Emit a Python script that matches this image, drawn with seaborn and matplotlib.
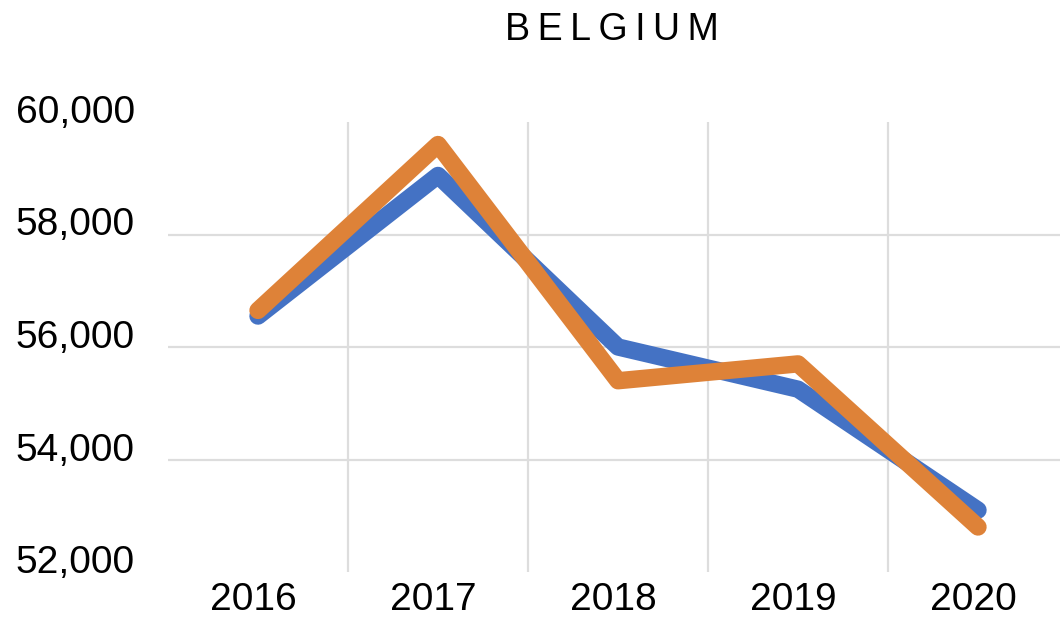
import matplotlib
matplotlib.use("Agg")
import matplotlib.pyplot as plt
import matplotlib.transforms as mtransforms
import seaborn as sns
import pandas as pd
from matplotlib.ticker import FuncFormatter

years = ["2016", "2017", "2018", "2019", "2020"]
series_a = [56550, 59050, 56000, 55250, 53100]
series_b = [56650, 59600, 55400, 55700, 52800]
series_names = ["Series 1", "Series 2"]
yticks = [52000, 54000, 56000, 58000, 60000]
title = "BELGIUM"

sns.set_theme(style="white")
plt.rcParams['font.family'] = ['Liberation Sans', 'DejaVu Sans']

df = pd.DataFrame({
    "pos": list(range(len(years))) * 2,
    "value": series_a + series_b,
    "series": [series_names[0]] * len(years) + [series_names[1]] * len(years),
})

fig = plt.figure(figsize=(10.6, 6.18), dpi=100)
ax = fig.add_axes([168 / 1060, 1 - 572 / 618, 900 / 1060, 450 / 618])

sns.lineplot(data=df, x="pos", y="value", hue="series",
             palette=["#4472C4", "#DE8238"], linewidth=12.5,
             legend=False, ax=ax, sort=False)
for line in ax.lines:
    line.set_solid_capstyle("round")
    line.set_solid_joinstyle("round")

ax.set_xlim(-0.5, len(years) - 0.5)
ax.set_ylim(52000, 60000)
ax.set_xticks(range(len(years)))
ax.set_xticklabels(years)
ax.set_yticks(yticks)
ax.yaxis.set_major_formatter(FuncFormatter(lambda v, p: f"{int(v):,}"))
ax.set_xlabel("")
ax.set_ylabel("")

# gridlines: vertical at category boundaries, horizontal at inner ticks
for xb in [i + 0.5 for i in range(len(years) - 1)]:
    ax.axvline(xb, color="#DDDDDD", linewidth=1.6, zorder=0)
for yv in yticks[1:-1]:
    ax.axhline(yv, color="#DDDDDD", linewidth=1.6, zorder=0)

for s in ax.spines.values():
    s.set_visible(False)

ax.tick_params(axis="y", length=0, pad=24, labelsize=28, labelcolor="black")
ax.tick_params(axis="x", length=0, pad=7, labelsize=28, labelcolor="black")

# shift labels like the reference (y labels raised, x labels slightly left)
ydx = mtransforms.ScaledTranslation(0, 0.13, fig.dpi_scale_trans)
for lab in ax.get_yticklabels():
    lab.set_transform(lab.get_transform() + ydx)
xdx = mtransforms.ScaledTranslation(-0.05, 0, fig.dpi_scale_trans)
for lab in ax.get_xticklabels():
    lab.set_transform(lab.get_transform() + xdx)

fig.text(612 / 1060, 1 - 30 / 618, "\u2009".join(title), ha="center", va="center",
         fontsize=27, color="black", family=['Liberation Sans', 'DejaVu Sans'])

fig.savefig("out.png", dpi=100, facecolor="white")
